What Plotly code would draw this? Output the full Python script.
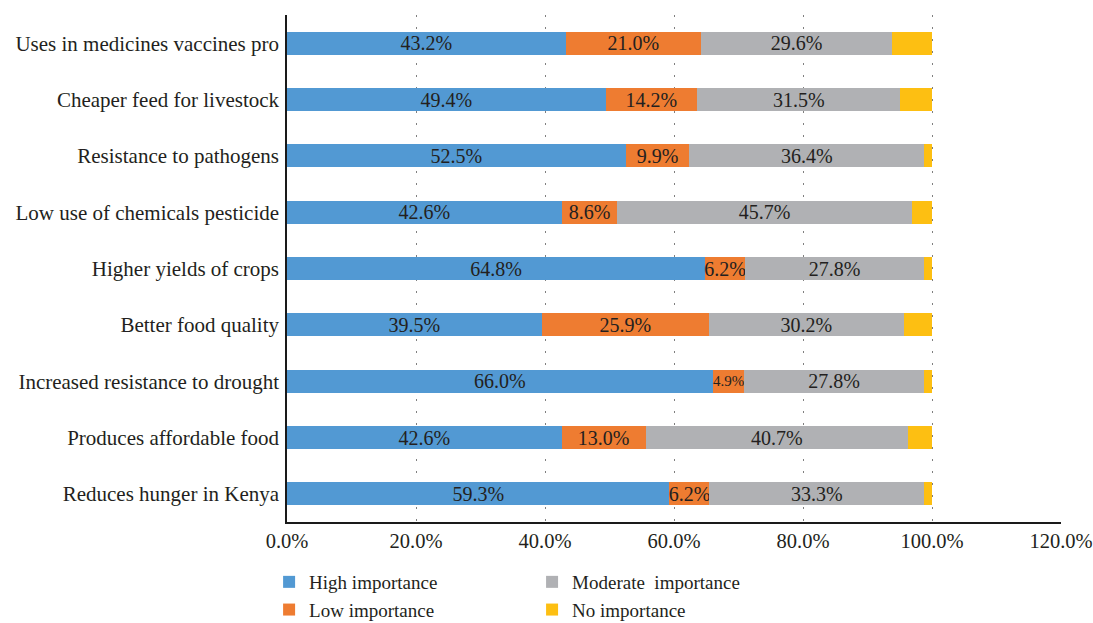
import plotly.graph_objects as go

categories = [
    "Uses in medicines vaccines pro",
    "Cheaper feed for livestock",
    "Resistance to pathogens",
    "Low use of chemicals pesticide",
    "Higher yields of crops",
    "Better food quality",
    "Increased resistance to drought",
    "Produces affordable food",
    "Reduces hunger in Kenya",
]
high = [43.2, 49.4, 52.5, 42.6, 64.8, 39.5, 66.0, 42.6, 59.3]
low = [21.0, 14.2, 9.9, 8.6, 6.2, 25.9, 4.9, 13.0, 6.2]
moderate = [29.6, 31.5, 36.4, 45.7, 27.8, 30.2, 27.8, 40.7, 33.3]
none_ = [6.2, 4.9, 1.2, 3.1, 1.2, 4.4, 1.3, 3.7, 1.2]

x_ticks = [0, 20, 40, 60, 80, 100, 120]
x_tick_labels = ["0.0%", "20.0%", "40.0%", "60.0%", "80.0%", "100.0%", "120.0%"]

FONT = "Liberation Serif"
TEXT_COLOR = "#231F20"
LABEL_SIZE = 20

series = [
    ("High importance", high, "#5299D3", True, "legend"),
    ("Low importance", low, "#EE7C31", True, "legend"),
    ("Moderate  importance", moderate, "#B0B1B4", True, "legend2"),
    ("No importance", none_, "#FDBF12", False, "legend2"),
]

fig = go.Figure()
for name, vals, color, labelled, leg in series:
    # narrow segments get a smaller label so it stays inside the bar
    sizes = [LABEL_SIZE if v >= 6 else 15 for v in vals]
    fig.add_trace(go.Bar(
        y=categories,
        x=vals,
        name=name,
        orientation="h",
        marker=dict(color=color, line=dict(width=0)),
        text=[f"{v:.1f}%" for v in vals] if labelled else None,
        textposition="inside" if labelled else "none",
        insidetextanchor="middle",
        constraintext="none",
        textfont=dict(family=FONT, size=sizes, color=TEXT_COLOR),
        legend=leg,
        hoverinfo="skip",
    ))

legend_style = dict(
    orientation="v", xanchor="left", yanchor="top",
    xref="container", yref="container",
    font=dict(family=FONT, size=19, color=TEXT_COLOR),
    traceorder="normal", tracegroupgap=0, itemwidth=30,
    bgcolor="rgba(0,0,0,0)",
)

fig.update_layout(
    barmode="stack",
    bargap=0.594,
    width=1093,
    height=623,
    margin=dict(l=287, r=32, t=15, b=101, autoexpand=False),
    plot_bgcolor="white",
    paper_bgcolor="white",
    font=dict(family=FONT, size=20, color=TEXT_COLOR),
    legend=dict(x=0.2462, y=0.0963, **legend_style),
    legend2=dict(x=0.4868, y=0.0963, **legend_style),
)

fig.update_xaxes(
    range=[0, 120],
    tickvals=x_ticks,
    ticktext=x_tick_labels,
    showgrid=True,
    gridcolor="#7F7F7F",
    gridwidth=1,
    griddash="2px,10px",
    zeroline=False,
    showline=True,
    linecolor="#1A1A1A",
    linewidth=1.5,
    ticks="",
    automargin=False,
    tickfont=dict(family=FONT, size=20.5, color=TEXT_COLOR),
    fixedrange=True,
)
fig.update_yaxes(
    categoryorder="array",
    categoryarray=categories[::-1],
    showgrid=False,
    showline=True,
    linecolor="#1A1A1A",
    linewidth=1.5,
    ticks="",
    ticklabelstandoff=2,
    automargin=False,
    tickfont=dict(family=FONT, size=21, color=TEXT_COLOR),
    fixedrange=True,
)

fig.write_html("out.html", config={"displayModeBar": False})
